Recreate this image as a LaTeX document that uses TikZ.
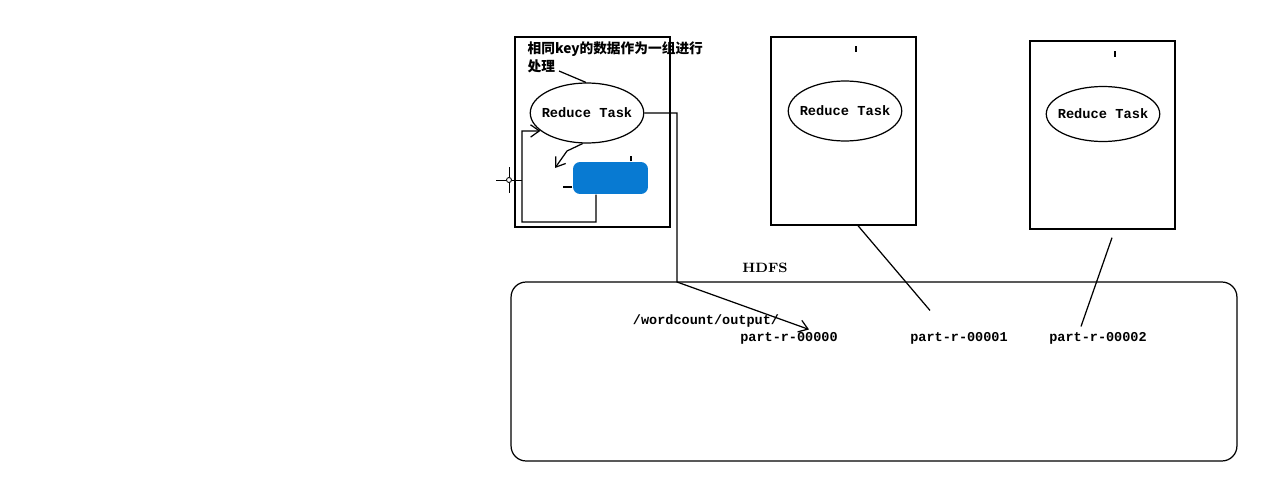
\documentclass[tikz,border=0pt]{standalone}
\usepackage{fontspec}
\setmonofont{Liberation Mono}
\newfontfamily\cjk{Noto Sans CJK SC}
\usetikzlibrary{calc, arrows.meta, positioning, shapes.geometric}
\usepackage{xcolor}
\definecolor{taskblue}{RGB}{8,122,210}

\begin{document}
\begin{tikzpicture}[x=0.02cm, y=-0.02cm, >={Straight Barb[length=5pt, width=7pt]}, line width=0.7pt]
				\tikzstyle{box} = [draw=black, rectangle, line width=0.8pt, minimum width=2.9cm, minimum height=3.76cm, inner sep=0pt]
				\tikzstyle{task} = [draw=black, ellipse, minimum width=2.27cm, minimum height=1.2cm, inner ysep=0pt, inner xsep=-3pt, font=\fontsize{7.8}{9}\selectfont\ttfamily\bfseries]
				\tikzstyle{lbl} = [draw=none, inner sep=0pt, font=\fontsize{7.7}{9}\selectfont\ttfamily\bfseries]
				
				\useasboundingbox (0,0) rectangle (1282,480);
				
				% reduce boxes
				\node[box, minimum width=3.1cm, minimum height=3.8cm] at (592.5,132) (box1) {};
				\node[box] at (843.5,131) (box2) {};
				\node[box] at (1102.5,135) (box3) {};
				
				\node[task] at (587,113) (task1) {Reduce Task};
				\node[task] at (845,111) (task2) {Reduce Task};
				\node[task, minimum height=1.1cm] at (1103,114) (task3) {Reduce Task};
				
				\node[draw=none, anchor=north west, align=left, inner sep=0pt,
				      font=\fontsize{7.8}{10.2}\selectfont\cjk\bfseries] at (527,41) (note) {相同key的数据作为一组进行\\处理};
				\node[draw=none, fill=taskblue, rounded corners=4pt, minimum width=1.5cm, minimum height=0.64cm] at (610.5,178) (blue) {};
				
				% HDFS
				\node[draw=black, rounded corners=0.3cm, minimum width=14.52cm, minimum height=3.58cm] at (874,371.5) (hdfs) {};
				\node[lbl, font=\fontsize{7.7}{9}\selectfont\bfseries] at (765,268) (hdfslbl) {HDFS};
				\node[lbl] at (706,321) (dir) {/wordcount/output/};
				\node[lbl] at (789,338) (p0) {part-r-00000};
				\node[lbl] at (959,338) (p1) {part-r-00001};
				\node[lbl] at (1098,338) (p2) {part-r-00002};
				
				\coordinate (lead) at (559,71);
				\coordinate (bend) at (567,151);
				\coordinate (tip) at (555,168);
				\coordinate (corner) at (522,222);
				\coordinate (up) at (522,131);
				\coordinate (drop) at (677,282);
				
				\draw (lead) -- (task1.92);
				\draw[->] (task1.262) -- (bend) -- (tip);
				\draw[->] ([xshift=-0.29cm]blue.south) |- (corner) -- (up) -- (task1.201);
				\draw[->] (task1.east) -| (drop) -- ([xshift=0.4cm, yshift=0.04cm]p0.north);
				\draw ([xshift=0.29cm]box2.south) -- ([xshift=-0.58cm, yshift=0.42cm]p1.north);
				\draw ([xshift=0.19cm, yshift=-0.16cm]box3.south) -- ([xshift=-0.34cm, yshift=0.1cm]p2.north);
				
				% small marks
				\draw ([xshift=0.41cm]blue.north) -- ++(0,-5);
				\draw ([yshift=-0.18cm]blue.west) -- ++(-9,0);
				\draw ([xshift=0.25cm, yshift=-0.2cm]box2.north) -- ++(0,6);
				\draw ([xshift=0.25cm, yshift=-0.22cm]box3.north) -- ++(0,6);
				
				% cursor
				\node[draw=black, circle, minimum size=0.1cm, inner sep=0pt, line width=0.5pt] at (509,180) (cursor) {};
				\draw[line width=0.5pt] (cursor.west) -- ++(-10,0) (cursor.east) -- ++(10,0)
				      (cursor.north) -- ++(0,-10) (cursor.south) -- ++(0,10);
			\end{tikzpicture}
\end{document}
